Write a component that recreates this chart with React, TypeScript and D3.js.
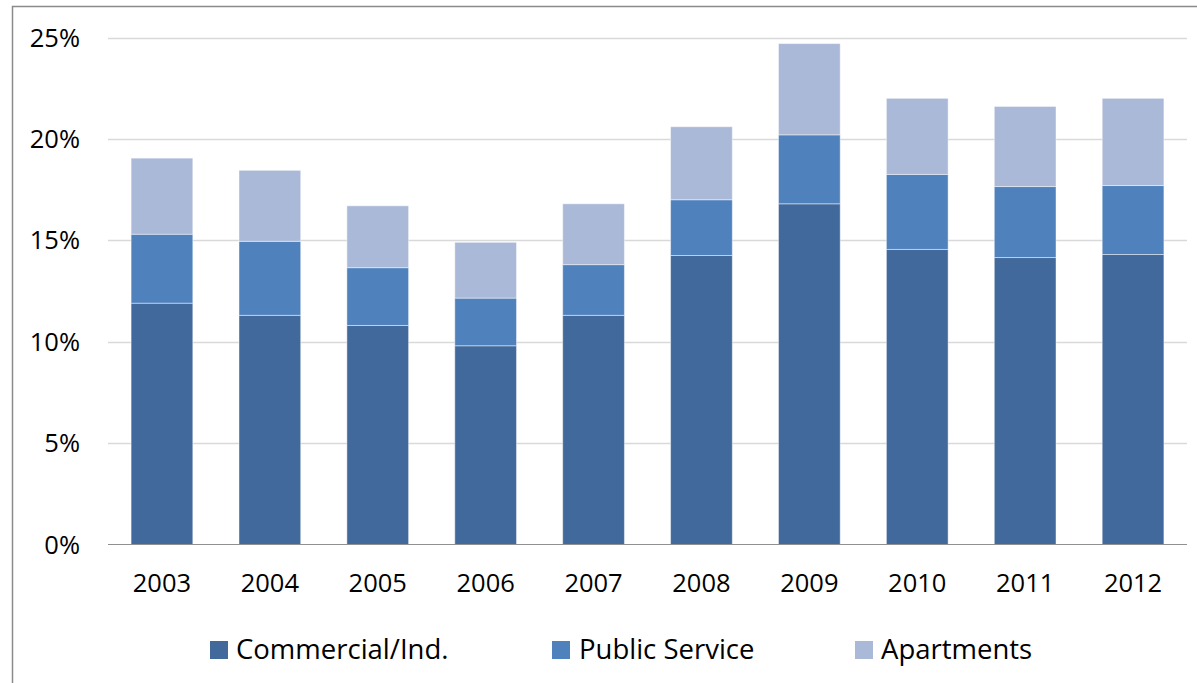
import React from "react";
import * as d3 from "d3";

const years = ["2003", "2004", "2005", "2006", "2007", "2008", "2009", "2010", "2011", "2012"];
const commercial = [11.9, 11.3, 10.8, 9.8, 11.3, 14.25, 16.8, 14.55, 14.15, 14.3];
const publicService = [3.4, 3.65, 2.85, 2.35, 2.5, 2.75, 3.4, 3.7, 3.5, 3.4];
const apartments = [3.75, 3.5, 3.05, 2.75, 3.0, 3.6, 4.5, 3.75, 3.95, 4.3];
const seriesNames = ["Commercial/Ind.", "Public Service", "Apartments"];
const yTicks = [0, 5, 10, 15, 20, 25];

const colors = ["#41699B", "#4F81BD", "#AAB9D7"];
const FONT = "'Open Sans', 'Noto Sans', sans-serif";
const FS = 25.5;
const LFS = 27.5;

export default function App() {
  const W = 1197, H = 683;
  const x = d3.scaleBand<string>().domain(years).range([108, 1187]).paddingInner(0.428).paddingOuter(0.214);
  const y = d3.scaleLinear().domain([0, 25]).range([544.5, 37.5]);

  const table = years.map((yr, i) => ({
    year: yr,
    c: commercial[i],
    p: publicService[i],
    a: apartments[i],
  }));
  const stack = d3.stack<any>().keys(["c", "p", "a"])(table);

  const legendItems = [
    { name: seriesNames[0], sx: 210, tx: 236 },
    { name: seriesNames[1], sx: 552, tx: 579 },
    { name: seriesNames[2], sx: 855, tx: 881 },
  ];

  return (
    <svg width={W} height={H} style={{ position: "absolute", left: 0, top: 0, background: "#fff" }} fontFamily={FONT}>
      <rect x={0} y={0} width={W} height={H} fill="#fff" />
      <rect x={12.5} y={6.5} width={1300} height={800} fill="none" stroke="#8a8a8a" strokeWidth={1.5} />
      {yTicks.map((t) => (
        <g key={t}>
          {t > 0 && (
            <line x1={108} x2={1187} y1={Math.round(y(t)) + 0.5} y2={Math.round(y(t)) + 0.5} stroke="#d9d9d9" strokeWidth={1.5} />
          )}
          <text x={80} y={y(t)} dy="0.36em" textAnchor="end" fontSize={FS} fill="#000">
            {t + "%"}
          </text>
        </g>
      ))}
      {stack.map((s, si) => (
        <g key={si} fill={colors[si]}>
          {s.map((d: any, i: number) => (
            <rect
              key={i}
              x={x(years[i])!}
              y={y(d[1])}
              width={x.bandwidth()}
              height={y(d[0]) - y(d[1])}
              stroke="rgba(255,255,255,0.45)"
              strokeWidth={1}
            />
          ))}
        </g>
      ))}
      <line x1={108} x2={1187} y1={544.5} y2={544.5} stroke="#909090" strokeWidth={1.2} />
      {years.map((yr) => (
        <text key={yr} x={x(yr)! + x.bandwidth() / 2} y={591.5} textAnchor="middle" fontSize={FS} fill="#000">
          {yr}
        </text>
      ))}
      {legendItems.map((l, i) => (
        <g key={l.name}>
          <rect x={l.sx} y={641} width={18} height={18} fill={colors[i]} />
          <text x={l.tx} y={658.5} fontSize={LFS} fill="#000">
            {l.name}
          </text>
        </g>
      ))}
    </svg>
  );
}
